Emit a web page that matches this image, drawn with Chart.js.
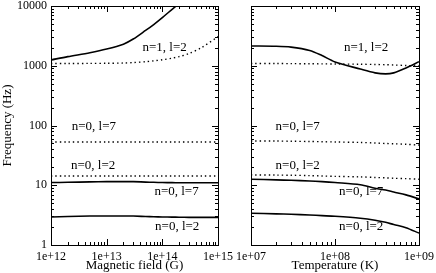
<!DOCTYPE html>
<html>
<head>
<meta charset="utf-8">
<script src="https://cdn.jsdelivr.net/npm/chart.js@4.4.1/dist/chart.umd.min.js"></script>
<style>
body { margin: 0; background: #fff; }
#wrap { position: relative; width: 436px; height: 273px; }
canvas { position: absolute; top: 0; }
#cB { left: 0; }
#cT { left: 220px; }
</style>
</head>
<body>
<div id="wrap">
<canvas id="cB" width="240" height="273"></canvas>
<canvas id="cT" width="216" height="273"></canvas>
</div>
<script>
// left panel: magnetic field (G)
var bField = [1e12, 2e12, 5e12, 1e13, 2e13, 3e13, 5e13, 7e13, 1e14, 1.5e14, 2e14, 3e14, 5e14, 1e15];
var bN1L2 = [1250, 1420, 1650, 1900, 2300, 2800, 3900, 4900, 6400, 8800, 11000, null, null, null];
var bN1L2dot = [1090, 1090, 1095, 1100, 1110, 1130, 1170, 1210, 1260, 1340, 1420, 1600, 2000, 3070];
var bN0L7dot = [53, 53, 53, 53, 53, 53, 53, 53, 53, 53, 53, 53, 53, 53];
var bN0L2dot = [14.3, 14.3, 14.3, 14.3, 14.3, 14.3, 14.3, 14.3, 14.3, 14.3, 14.3, 14.3, 14.3, 14.3];
var bN0L7 = [11.1, 11.2, 11.4, 11.5, 11.5, 11.5, 11.3, 11.2, 11.1, 11.05, 11.0, 11.0, 11.0, 11.0];
var bN0L2 = [2.95, 3.0, 3.05, 3.05, 3.05, 3.05, 3.0, 2.97, 2.95, 2.93, 2.92, 2.9, 2.9, 2.9];

// right panel: temperature (K)
var temp = [1e7, 2e7, 3e7, 5e7, 7e7, 1e8, 2e8, 3e8, 4e8, 5e8, 7e8, 1e9];
var tN1L2 = [2140, 2120, 2050, 1800, 1480, 1160, 880, 760, 730, 760, 920, 1170];
var tN1L2dot = [1090, 1090, 1085, 1080, 1075, 1070, 1060, 1050, 1040, 1030, 1010, 990];
var tN0L7dot = [55, 55, 54.5, 54, 53.5, 53, 52, 51, 50, 49.5, 48.5, 47];
var tN0L2dot = [14.9, 14.8, 14.7, 14.5, 14.3, 14.1, 13.8, 13.5, 13.3, 13.1, 12.9, 12.6];
var tN0L7 = [12.6, 12.3, 12.1, 11.8, 11.5, 11.1, 10.2, 8.9, 8.3, 7.7, 6.9, 5.9];
var tN0L2 = [3.4, 3.32, 3.27, 3.18, 3.1, 3.02, 2.8, 2.6, 2.4, 2.2, 1.95, 1.58];

// curve labels
var labText = ['n=1, l=2', 'n=0, l=7', 'n=0, l=2', 'n=0, l=7', 'n=0, l=2'];
var labY = [2000, 95, 21, 7.8, 2.0];
var labXB = [1.1e14, 5.9e12, 5.7e12, 1.8e14, 1.85e14];
var labXT = [2.35e8, 3.6e7, 3.6e7, 2.05e8, 2.05e8];

Chart.defaults.font.family = '"Liberation Serif", serif';
Chart.defaults.color = '#000';

function pts(xs, ys) {
  return xs.map(function(x, i) { return {x: x, y: ys[i]}; });
}
function solid(d) {
  return {data: d, borderColor: '#000', borderWidth: 1.6, pointRadius: 0, tension: 0.3, fill: false};
}
function dotted(d) {
  return {data: d, borderColor: '#000', borderWidth: 1.4, borderDash: [1.4, 3], pointRadius: 0, tension: 0.3, fill: false};
}
function isPow(v) {
  var e = Math.log10(v);
  return Math.abs(e - Math.round(e)) < 1e-9;
}

// inward ticks on all four sides, plus frame and curve labels
function framePlugin(lx, ly) {
  return {
    id: 'frame',
    afterDatasetsDraw: function(chart) {
      var c = chart.ctx, a = chart.chartArea, xs = chart.scales.x, ys = chart.scales.y;
      c.save();
      c.strokeStyle = '#000';
      c.lineWidth = 1;
      c.beginPath();
      function tickX(v, len) {
        var p = Math.round(xs.getPixelForValue(v)) + 0.5;
        c.moveTo(p, a.bottom); c.lineTo(p, a.bottom - len);
        c.moveTo(p, a.top); c.lineTo(p, a.top + len);
      }
      function tickY(v, len) {
        var p = Math.round(ys.getPixelForValue(v)) + 0.5;
        c.moveTo(a.left, p); c.lineTo(a.left + len, p);
        c.moveTo(a.right, p); c.lineTo(a.right - len, p);
      }
      for (var e = Math.round(Math.log10(xs.min)); e <= Math.round(Math.log10(xs.max)); e++) {
        for (var m = 1; m < 10; m++) {
          var v = m * Math.pow(10, e);
          if (v > xs.max * 1.0001) break;
          tickX(v, m === 1 ? 6 : 3);
        }
      }
      for (var e2 = 0; e2 <= 4; e2++) {
        for (var m2 = 1; m2 < 10; m2++) {
          var v2 = m2 * Math.pow(10, e2);
          if (v2 > ys.max * 1.0001) break;
          tickY(v2, m2 === 1 ? 6 : 3);
        }
      }
      c.stroke();
      c.strokeRect(Math.round(a.left) + 0.5, Math.round(a.top) + 0.5, Math.round(a.right - a.left), Math.round(a.bottom - a.top));
      c.fillStyle = '#000';
      c.font = '13px "Liberation Serif", serif';
      c.textAlign = 'center';
      c.textBaseline = 'middle';
      for (var i = 0; i < labText.length; i++) {
        c.fillText(labText[i], xs.getPixelForValue(lx[i]), ys.getPixelForValue(ly[i]));
      }
      c.restore();
    }
  };
}

function makeChart(id, xs, series, xmin, xmax, xtitle, showY, yWidth, padRight, lx) {
  return new Chart(document.getElementById(id), {
    type: 'line',
    data: {datasets: series},
    plugins: [framePlugin(lx, labY)],
    options: {
      responsive: false,
      animation: false,
      layout: {padding: {left: 0, right: padRight, top: 6, bottom: 0}},
      plugins: {legend: {display: false}, tooltip: {enabled: false}},
      scales: {
        x: {
          type: 'logarithmic', min: xmin, max: xmax,
          grid: {display: false, drawTicks: false},
          border: {display: false},
          ticks: {
            autoSkip: false, maxRotation: 0, padding: 5,
            font: {size: 12},
            callback: function(v) { return isPow(v) ? '1e+' + String(Math.round(Math.log10(v))).padStart(2, '0') : ''; }
          },
          title: {display: true, text: xtitle, font: {size: 13}, padding: {top: 0, bottom: 0}},
          afterFit: function(s) { s.height = 28; s.paddingLeft = 0; s.paddingRight = 0; }
        },
        y: {
          type: 'logarithmic', min: 1, max: 10000,
          grid: {display: false, drawTicks: false},
          border: {display: false},
          ticks: {
            display: showY, autoSkip: false, padding: 4,
            font: {size: 12},
            callback: function(v) { return isPow(v) ? String(v) : ''; }
          },
          title: {display: showY, text: 'Frequency (Hz)', font: {size: 13}, padding: {top: 0, bottom: 0}},
          afterFit: function(s) { s.width = yWidth; s.paddingTop = 0; s.paddingBottom = 0; }
        }
      }
    }
  });
}

makeChart('cB', bField, [
  solid(pts(bField, bN1L2)), dotted(pts(bField, bN1L2dot)),
  dotted(pts(bField, bN0L7dot)), dotted(pts(bField, bN0L2dot)),
  solid(pts(bField, bN0L7)), solid(pts(bField, bN0L2))
], 1e12, 1e15, 'Magnetic field (G)', true, 51, 22, labXB);

makeChart('cT', temp, [
  solid(pts(temp, tN1L2)), dotted(pts(temp, tN1L2dot)),
  dotted(pts(temp, tN0L7dot)), dotted(pts(temp, tN0L2dot)),
  solid(pts(temp, tN0L7)), solid(pts(temp, tN0L2))
], 1e7, 1e9, 'Temperature (K)', false, 31, 17, labXT);
</script>
</body>
</html>
